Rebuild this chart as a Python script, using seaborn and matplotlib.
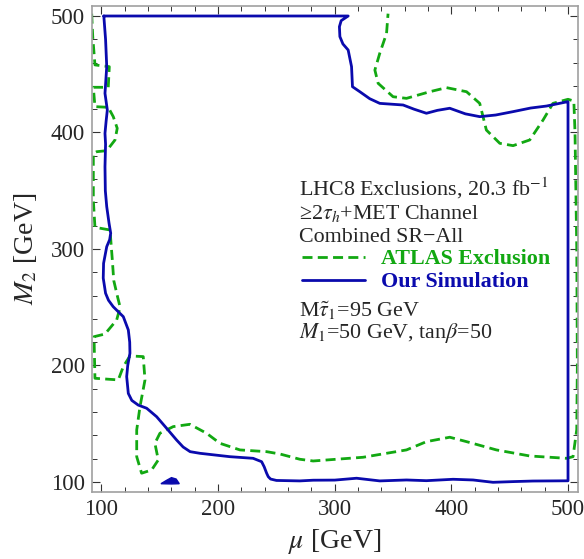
import numpy as np
import pandas as pd
import matplotlib
matplotlib.use("Agg")
import matplotlib.pyplot as plt
import seaborn as sns

sns.set_theme(style="ticks")
plt.rcParams['font.family'] = ['Liberation Serif', 'DejaVu Serif']
plt.rcParams['mathtext.fontset'] = 'stix'

# Our Simulation contour (mu, M2) in GeV
sim_mu = [102, 311.5, 305.5, 304, 304.4, 307, 311.5, 314.4, 315.2, 321.5, 330, 338.6,
          358.6, 368, 378.6, 388, 398.6, 412, 424.3, 438, 452.9, 468, 481.5, 499.5,
          500, 500, 470, 452.9, 435.7, 418.6, 401.5, 378.6, 361.5, 338.6, 318.7, 300,
          281.5, 270, 250, 245, 243, 241.6, 239.5, 237.3, 230, 210, 184.4, 176, 170,
          164.4, 155.9, 147.3, 142, 138.7, 131.5, 126, 123, 121.6, 122.5, 124.4,
          124.2, 123, 118.7, 114, 110, 106, 103.5, 101.5, 101.8, 104.5, 107, 107.9,
          106.5, 104.5, 103.3, 103, 103.5, 103, 104, 105, 103, 104.5, 103.5, 102]
sim_m2 = [500, 500, 496, 490.8, 482.3, 476, 470.8, 456.5, 439.3, 435, 429, 425,
          423.6, 420, 416.5, 419, 420.8, 416, 413.6, 415, 417.9, 421, 422.7, 426.4,
          426.4, 101, 100.8, 100.3, 99.7, 101.7, 102.3, 101.1, 101.7, 100.9, 103.2,
          101.6, 101.5, 100.9, 101.3, 102.5, 104.5, 107.5, 113, 117.4, 120.3, 121.7,
          124.6, 126, 130, 136, 146, 156, 160.5, 163.3, 166, 170, 176, 190.4, 200,
          210.5, 220, 230.5, 241.9, 246.5, 250.5, 256, 262, 275, 287.7, 302, 308,
          313.5, 322, 336.3, 350, 370.6, 390, 399.3, 410, 419.3, 433.6, 456.5, 480,
          500]

# small isolated island of the simulation contour
blob_mu = [151, 156, 160, 164, 166.7, 160, 151]
blob_m2 = [98.5, 101.5, 103.7, 102.5, 98.5, 98.3, 98.5]

# ATLAS exclusion contour (mu, M2) in GeV
atl_mu = [91.6, 92.5, 94.4, 106.7, 105.8, 93, 94.4, 105.8, 110.1, 113.5, 111.6,
          104.5, 95.9, 93, 93, 94.4, 107.3, 109.3, 110.5, 114, 116, 113, 103, 93.6,
          94.4, 114.4, 118.7, 124.4, 135.8, 137.3, 133, 130.2, 130.2, 134.4, 143,
          148.7, 145.8, 150.1, 161.5, 175.8, 190.1, 201.5, 218.7, 241.6, 253, 270,
          281.5, 324.3, 361.5, 378.6, 398.6, 413, 438.6, 467.2, 498.6, 504.3,
          507.5, 508, 507.5, 506, 505, 500, 487.1, 478.6, 467.2, 452.9, 441.5, 430,
          424.3, 413, 395.8, 381.5, 361.5, 350, 337.2, 334.4, 338.6, 344.4, 345.7]
atl_m2 = [502, 482.3, 458, 456.5, 438.8, 438.8, 422.2, 421.6, 413.6, 403.6, 393.6,
          384.4, 383.5, 382.1, 342, 318.6, 316.3, 290.5, 273, 258, 250, 239, 227,
          224.7, 189, 187.6, 199, 208.2, 207.6, 187.6, 164.6, 144.6, 121.7, 107.5,
          110.3, 118.9, 133.2, 141.8, 147.5, 149.5, 141.8, 133.2, 127.5, 126, 124,
          119.5, 118, 121.2, 127.5, 134.6, 138.4, 134.6, 127.5, 122.3, 120.3, 121.7,
          145, 200, 300, 400, 427, 428.5, 425, 410.7, 393.6, 388.7, 390.7, 402.1,
          425, 435, 438.5, 435, 429.3, 430.7, 442.2, 453.6, 468, 485, 502]

blue = '#0a0aad'
green = '#12a812'

sim = pd.DataFrame({'mu': sim_mu, 'M2': sim_m2})
atl = pd.DataFrame({'mu': atl_mu, 'M2': atl_m2})

fig = plt.figure(figsize=(5.84, 5.59), dpi=100)
ax = fig.add_axes([0.157, 0.1199, 0.833, 0.8694])

sns.lineplot(data=atl, x='mu', y='M2', sort=False, estimator=None, ax=ax,
             color=green, lw=2.0, label='ATLAS Exclusion')
ax.lines[-1].set_dashes([3.6, 1.9])
sns.lineplot(data=sim, x='mu', y='M2', sort=False, estimator=None, ax=ax,
             color=blue, lw=2.0, label='Our Simulation')
ax.fill(blob_mu, blob_m2, color=blue, lw=1.0)

ax.set_xlim(91.6, 508.7)
ax.set_ylim(91.4, 508.6)
ax.set_xticks([100, 200, 300, 400, 500])
ax.set_yticks([100, 200, 300, 400, 500])
ax.set_xticks(np.arange(100, 501, 20), minor=True)
ax.set_yticks(np.arange(100, 501, 20), minor=True)
ax.tick_params(which='both', direction='in', top=True, right=True,
               color='#333333', labelsize=16.5, pad=5)
ax.tick_params(which='major', length=6, width=0.8)
ax.tick_params(which='minor', length=3.5, width=0.7)
for s in ax.spines.values():
    s.set_color('#a0a0a0')
    s.set_linewidth(1.2)

ax.set_xlabel(r'$\mu$ [GeV]', fontsize=20, labelpad=5)
ax.set_ylabel(r'$M_2$ [GeV]', fontsize=20, labelpad=8)

tx = 0.426
ts = 15.8
ax.text(tx, 0.6095, r'LHC8 Exclusions, 20.3 fb$^{-1}$', transform=ax.transAxes,
        fontsize=ts, va='baseline')
ax.text(tx, 0.5618, r'≥2$\tau_h$+MET Channel', transform=ax.transAxes,
        fontsize=ts, va='baseline')
ax.text(tx, 0.5152, 'Combined SR\u2212All', transform=ax.transAxes,
        fontsize=ts, va='baseline')
ax.text(tx, 0.360, r'M$\tilde{\tau}_1$=95 GeV', transform=ax.transAxes,
        fontsize=ts, va='baseline')
ax.text(tx, 0.316, r'$M_1$=50 GeV, tan$\beta$=50', transform=ax.transAxes,
        fontsize=ts, va='baseline')

leg = ax.legend(loc='upper left', bbox_to_anchor=(0.4316, 0.500), frameon=False,
                handlelength=2.9, handletextpad=0.7,
                borderpad=0, borderaxespad=0, labelspacing=0.12,
                prop={'weight': 'bold', 'size': ts})
for t, c in zip(leg.get_texts(), [green, blue]):
    t.set_color(c)

fig.savefig('out.png', dpi=100)
